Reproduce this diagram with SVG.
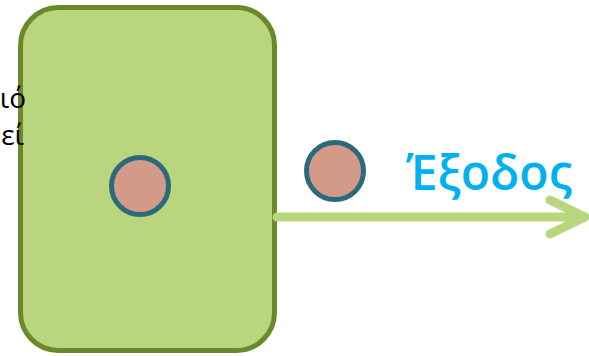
<svg xmlns="http://www.w3.org/2000/svg" width="589" height="356" viewBox="0 0 589 356">
<style>
.lbl{font-family:"Open Sans","Noto Sans","DejaVu Sans",sans-serif;fill:#000;font-size:28px;text-anchor:end}
.ball{fill:#D49A88;stroke:#2A6A7B;stroke-width:5}
.flow{stroke:#B9D67E;stroke-width:9;stroke-linecap:round;fill:none}
</style>
<g id="box">
<rect x="20.5" y="7.5" width="254" height="343" rx="38" fill="#B9D67E" stroke="#6A8A2A" stroke-width="5"/>
</g>
<g id="label-left">
<text class="lbl" x="26" y="108">ιό</text>
<text class="lbl" x="24" y="145">εί</text>
</g>
<g id="connectors">
<line class="flow" x1="277" y1="217" x2="584" y2="217"/>
<polyline class="flow" points="550,200 585,217 550,234" stroke-linejoin="round"/>
</g>
<g id="ball-inside"><circle class="ball" cx="140" cy="186" r="28.5"/></g>
<g id="ball-outside"><circle class="ball" cx="335" cy="171" r="28.5"/></g>
<g id="label-exit">
<text x="406" y="190" font-family="Open Sans,Noto Sans,sans-serif" font-weight="600" font-size="48" fill="#00B0F0">Έξοδος</text>
</g>
</svg>
